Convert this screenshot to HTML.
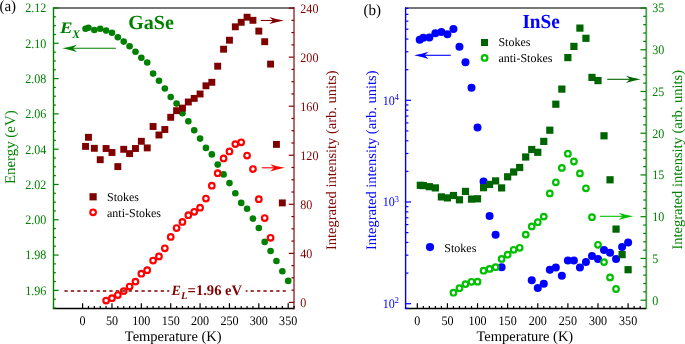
<!DOCTYPE html>
<html><head><meta charset="utf-8"><style>
html,body{margin:0;padding:0;background:#fff;}
body{width:685px;height:344px;overflow:hidden;}
svg{display:block;font-family:"Liberation Serif",serif;text-rendering:geometricPrecision;will-change:transform;filter:blur(0.3px);}
</style></head><body>
<svg width="685" height="344" viewBox="0 0 685 344">
<rect width="685" height="344" fill="#fff"/>
<line x1="53.5" y1="8.0" x2="294.0" y2="8.0" stroke="#4a4a4a" stroke-width="1.5"/>
<line x1="52.8" y1="308.5" x2="294.0" y2="308.5" stroke="#000" stroke-width="1.3"/>
<line x1="53.5" y1="7.3" x2="53.5" y2="308.7" stroke="#008000" stroke-width="1.4"/>
<line x1="294.0" y1="7.1" x2="294.0" y2="309.4" stroke="#800000" stroke-width="2" stroke-opacity="0.58"/>
<line x1="405.6" y1="8.0" x2="646.0" y2="8.0" stroke="#4a4a4a" stroke-width="1.5"/>
<line x1="404.90000000000003" y1="308.5" x2="646.0" y2="308.5" stroke="#000" stroke-width="1.3"/>
<line x1="405.6" y1="7.3" x2="405.6" y2="308.7" stroke="#0000ff" stroke-width="1.4"/>
<line x1="646.3" y1="7.2" x2="646.3" y2="309.3" stroke="#008000" stroke-width="1.7" stroke-opacity="0.75"/>
<line x1="82.6" y1="308.5" x2="82.6" y2="303.2" stroke="#000" stroke-width="1.2"/>
<line x1="88.47" y1="308.5" x2="88.47" y2="306" stroke="#000" stroke-width="1.2"/>
<line x1="94.35" y1="308.5" x2="94.35" y2="306" stroke="#000" stroke-width="1.2"/>
<line x1="100.22" y1="308.5" x2="100.22" y2="306" stroke="#000" stroke-width="1.2"/>
<line x1="106.1" y1="308.5" x2="106.1" y2="306" stroke="#000" stroke-width="1.2"/>
<line x1="111.97" y1="308.5" x2="111.97" y2="303.2" stroke="#000" stroke-width="1.2"/>
<line x1="117.84" y1="308.5" x2="117.84" y2="306" stroke="#000" stroke-width="1.2"/>
<line x1="123.72" y1="308.5" x2="123.72" y2="306" stroke="#000" stroke-width="1.2"/>
<line x1="129.59" y1="308.5" x2="129.59" y2="306" stroke="#000" stroke-width="1.2"/>
<line x1="135.47" y1="308.5" x2="135.47" y2="306" stroke="#000" stroke-width="1.2"/>
<line x1="141.34" y1="308.5" x2="141.34" y2="303.2" stroke="#000" stroke-width="1.2"/>
<line x1="147.21" y1="308.5" x2="147.21" y2="306" stroke="#000" stroke-width="1.2"/>
<line x1="153.09" y1="308.5" x2="153.09" y2="306" stroke="#000" stroke-width="1.2"/>
<line x1="158.96" y1="308.5" x2="158.96" y2="306" stroke="#000" stroke-width="1.2"/>
<line x1="164.84" y1="308.5" x2="164.84" y2="306" stroke="#000" stroke-width="1.2"/>
<line x1="170.71" y1="308.5" x2="170.71" y2="303.2" stroke="#000" stroke-width="1.2"/>
<line x1="176.58" y1="308.5" x2="176.58" y2="306" stroke="#000" stroke-width="1.2"/>
<line x1="182.46" y1="308.5" x2="182.46" y2="306" stroke="#000" stroke-width="1.2"/>
<line x1="188.33" y1="308.5" x2="188.33" y2="306" stroke="#000" stroke-width="1.2"/>
<line x1="194.21" y1="308.5" x2="194.21" y2="306" stroke="#000" stroke-width="1.2"/>
<line x1="200.08" y1="308.5" x2="200.08" y2="303.2" stroke="#000" stroke-width="1.2"/>
<line x1="205.95" y1="308.5" x2="205.95" y2="306" stroke="#000" stroke-width="1.2"/>
<line x1="211.83" y1="308.5" x2="211.83" y2="306" stroke="#000" stroke-width="1.2"/>
<line x1="217.7" y1="308.5" x2="217.7" y2="306" stroke="#000" stroke-width="1.2"/>
<line x1="223.58" y1="308.5" x2="223.58" y2="306" stroke="#000" stroke-width="1.2"/>
<line x1="229.45" y1="308.5" x2="229.45" y2="303.2" stroke="#000" stroke-width="1.2"/>
<line x1="235.32" y1="308.5" x2="235.32" y2="306" stroke="#000" stroke-width="1.2"/>
<line x1="241.2" y1="308.5" x2="241.2" y2="306" stroke="#000" stroke-width="1.2"/>
<line x1="247.07" y1="308.5" x2="247.07" y2="306" stroke="#000" stroke-width="1.2"/>
<line x1="252.95" y1="308.5" x2="252.95" y2="306" stroke="#000" stroke-width="1.2"/>
<line x1="258.82" y1="308.5" x2="258.82" y2="303.2" stroke="#000" stroke-width="1.2"/>
<line x1="264.69" y1="308.5" x2="264.69" y2="306" stroke="#000" stroke-width="1.2"/>
<line x1="270.57" y1="308.5" x2="270.57" y2="306" stroke="#000" stroke-width="1.2"/>
<line x1="276.44" y1="308.5" x2="276.44" y2="306" stroke="#000" stroke-width="1.2"/>
<line x1="282.32" y1="308.5" x2="282.32" y2="306" stroke="#000" stroke-width="1.2"/>
<line x1="288.19" y1="308.5" x2="288.19" y2="303.2" stroke="#000" stroke-width="1.2"/>
<line x1="294.06" y1="308.5" x2="294.06" y2="306" stroke="#000" stroke-width="1.2"/>
<line x1="417.3" y1="308.5" x2="417.3" y2="303.2" stroke="#000" stroke-width="1.2"/>
<line x1="423.32" y1="308.5" x2="423.32" y2="306" stroke="#000" stroke-width="1.2"/>
<line x1="429.35" y1="308.5" x2="429.35" y2="306" stroke="#000" stroke-width="1.2"/>
<line x1="435.37" y1="308.5" x2="435.37" y2="306" stroke="#000" stroke-width="1.2"/>
<line x1="441.39" y1="308.5" x2="441.39" y2="306" stroke="#000" stroke-width="1.2"/>
<line x1="447.42" y1="308.5" x2="447.42" y2="303.2" stroke="#000" stroke-width="1.2"/>
<line x1="453.44" y1="308.5" x2="453.44" y2="306" stroke="#000" stroke-width="1.2"/>
<line x1="459.46" y1="308.5" x2="459.46" y2="306" stroke="#000" stroke-width="1.2"/>
<line x1="465.48" y1="308.5" x2="465.48" y2="306" stroke="#000" stroke-width="1.2"/>
<line x1="471.51" y1="308.5" x2="471.51" y2="306" stroke="#000" stroke-width="1.2"/>
<line x1="477.53" y1="308.5" x2="477.53" y2="303.2" stroke="#000" stroke-width="1.2"/>
<line x1="483.55" y1="308.5" x2="483.55" y2="306" stroke="#000" stroke-width="1.2"/>
<line x1="489.58" y1="308.5" x2="489.58" y2="306" stroke="#000" stroke-width="1.2"/>
<line x1="495.6" y1="308.5" x2="495.6" y2="306" stroke="#000" stroke-width="1.2"/>
<line x1="501.62" y1="308.5" x2="501.62" y2="306" stroke="#000" stroke-width="1.2"/>
<line x1="507.64" y1="308.5" x2="507.64" y2="303.2" stroke="#000" stroke-width="1.2"/>
<line x1="513.67" y1="308.5" x2="513.67" y2="306" stroke="#000" stroke-width="1.2"/>
<line x1="519.69" y1="308.5" x2="519.69" y2="306" stroke="#000" stroke-width="1.2"/>
<line x1="525.71" y1="308.5" x2="525.71" y2="306" stroke="#000" stroke-width="1.2"/>
<line x1="531.74" y1="308.5" x2="531.74" y2="306" stroke="#000" stroke-width="1.2"/>
<line x1="537.76" y1="308.5" x2="537.76" y2="303.2" stroke="#000" stroke-width="1.2"/>
<line x1="543.78" y1="308.5" x2="543.78" y2="306" stroke="#000" stroke-width="1.2"/>
<line x1="549.81" y1="308.5" x2="549.81" y2="306" stroke="#000" stroke-width="1.2"/>
<line x1="555.83" y1="308.5" x2="555.83" y2="306" stroke="#000" stroke-width="1.2"/>
<line x1="561.85" y1="308.5" x2="561.85" y2="306" stroke="#000" stroke-width="1.2"/>
<line x1="567.88" y1="308.5" x2="567.88" y2="303.2" stroke="#000" stroke-width="1.2"/>
<line x1="573.9" y1="308.5" x2="573.9" y2="306" stroke="#000" stroke-width="1.2"/>
<line x1="579.92" y1="308.5" x2="579.92" y2="306" stroke="#000" stroke-width="1.2"/>
<line x1="585.94" y1="308.5" x2="585.94" y2="306" stroke="#000" stroke-width="1.2"/>
<line x1="591.97" y1="308.5" x2="591.97" y2="306" stroke="#000" stroke-width="1.2"/>
<line x1="597.99" y1="308.5" x2="597.99" y2="303.2" stroke="#000" stroke-width="1.2"/>
<line x1="604.01" y1="308.5" x2="604.01" y2="306" stroke="#000" stroke-width="1.2"/>
<line x1="610.04" y1="308.5" x2="610.04" y2="306" stroke="#000" stroke-width="1.2"/>
<line x1="616.06" y1="308.5" x2="616.06" y2="306" stroke="#000" stroke-width="1.2"/>
<line x1="622.08" y1="308.5" x2="622.08" y2="306" stroke="#000" stroke-width="1.2"/>
<line x1="628.11" y1="308.5" x2="628.11" y2="303.2" stroke="#000" stroke-width="1.2"/>
<line x1="634.13" y1="308.5" x2="634.13" y2="306" stroke="#000" stroke-width="1.2"/>
<line x1="640.15" y1="308.5" x2="640.15" y2="306" stroke="#000" stroke-width="1.2"/>
<line x1="53.5" y1="308" x2="55.9" y2="308" stroke="#008000" stroke-width="1.2"/>
<line x1="53.5" y1="299.18" x2="55.9" y2="299.18" stroke="#008000" stroke-width="1.2"/>
<line x1="53.5" y1="290.35" x2="58.7" y2="290.35" stroke="#008000" stroke-width="1.2"/>
<line x1="53.5" y1="281.53" x2="55.9" y2="281.53" stroke="#008000" stroke-width="1.2"/>
<line x1="53.5" y1="272.71" x2="55.9" y2="272.71" stroke="#008000" stroke-width="1.2"/>
<line x1="53.5" y1="263.88" x2="55.9" y2="263.88" stroke="#008000" stroke-width="1.2"/>
<line x1="53.5" y1="255.06" x2="58.7" y2="255.06" stroke="#008000" stroke-width="1.2"/>
<line x1="53.5" y1="246.24" x2="55.9" y2="246.24" stroke="#008000" stroke-width="1.2"/>
<line x1="53.5" y1="237.41" x2="55.9" y2="237.41" stroke="#008000" stroke-width="1.2"/>
<line x1="53.5" y1="228.59" x2="55.9" y2="228.59" stroke="#008000" stroke-width="1.2"/>
<line x1="53.5" y1="219.76" x2="58.7" y2="219.76" stroke="#008000" stroke-width="1.2"/>
<line x1="53.5" y1="210.94" x2="55.9" y2="210.94" stroke="#008000" stroke-width="1.2"/>
<line x1="53.5" y1="202.12" x2="55.9" y2="202.12" stroke="#008000" stroke-width="1.2"/>
<line x1="53.5" y1="193.29" x2="55.9" y2="193.29" stroke="#008000" stroke-width="1.2"/>
<line x1="53.5" y1="184.47" x2="58.7" y2="184.47" stroke="#008000" stroke-width="1.2"/>
<line x1="53.5" y1="175.65" x2="55.9" y2="175.65" stroke="#008000" stroke-width="1.2"/>
<line x1="53.5" y1="166.82" x2="55.9" y2="166.82" stroke="#008000" stroke-width="1.2"/>
<line x1="53.5" y1="158" x2="55.9" y2="158" stroke="#008000" stroke-width="1.2"/>
<line x1="53.5" y1="149.18" x2="58.7" y2="149.18" stroke="#008000" stroke-width="1.2"/>
<line x1="53.5" y1="140.35" x2="55.9" y2="140.35" stroke="#008000" stroke-width="1.2"/>
<line x1="53.5" y1="131.53" x2="55.9" y2="131.53" stroke="#008000" stroke-width="1.2"/>
<line x1="53.5" y1="122.71" x2="55.9" y2="122.71" stroke="#008000" stroke-width="1.2"/>
<line x1="53.5" y1="113.88" x2="58.7" y2="113.88" stroke="#008000" stroke-width="1.2"/>
<line x1="53.5" y1="105.06" x2="55.9" y2="105.06" stroke="#008000" stroke-width="1.2"/>
<line x1="53.5" y1="96.24" x2="55.9" y2="96.24" stroke="#008000" stroke-width="1.2"/>
<line x1="53.5" y1="87.41" x2="55.9" y2="87.41" stroke="#008000" stroke-width="1.2"/>
<line x1="53.5" y1="78.59" x2="58.7" y2="78.59" stroke="#008000" stroke-width="1.2"/>
<line x1="53.5" y1="69.77" x2="55.9" y2="69.77" stroke="#008000" stroke-width="1.2"/>
<line x1="53.5" y1="60.94" x2="55.9" y2="60.94" stroke="#008000" stroke-width="1.2"/>
<line x1="53.5" y1="52.12" x2="55.9" y2="52.12" stroke="#008000" stroke-width="1.2"/>
<line x1="53.5" y1="43.29" x2="58.7" y2="43.29" stroke="#008000" stroke-width="1.2"/>
<line x1="53.5" y1="34.47" x2="55.9" y2="34.47" stroke="#008000" stroke-width="1.2"/>
<line x1="53.5" y1="25.65" x2="55.9" y2="25.65" stroke="#008000" stroke-width="1.2"/>
<line x1="53.5" y1="16.82" x2="55.9" y2="16.82" stroke="#008000" stroke-width="1.2"/>
<line x1="53.5" y1="8" x2="58.7" y2="8" stroke="#008000" stroke-width="1.2"/>
<line x1="294" y1="302.4" x2="288.8" y2="302.4" stroke="#800000" stroke-width="1.2"/>
<line x1="294" y1="290.14" x2="291.4" y2="290.14" stroke="#800000" stroke-width="1.2"/>
<line x1="294" y1="277.87" x2="291.4" y2="277.87" stroke="#800000" stroke-width="1.2"/>
<line x1="294" y1="265.61" x2="291.4" y2="265.61" stroke="#800000" stroke-width="1.2"/>
<line x1="294" y1="253.35" x2="288.8" y2="253.35" stroke="#800000" stroke-width="1.2"/>
<line x1="294" y1="241.08" x2="291.4" y2="241.08" stroke="#800000" stroke-width="1.2"/>
<line x1="294" y1="228.82" x2="291.4" y2="228.82" stroke="#800000" stroke-width="1.2"/>
<line x1="294" y1="216.56" x2="291.4" y2="216.56" stroke="#800000" stroke-width="1.2"/>
<line x1="294" y1="204.3" x2="288.8" y2="204.3" stroke="#800000" stroke-width="1.2"/>
<line x1="294" y1="192.03" x2="291.4" y2="192.03" stroke="#800000" stroke-width="1.2"/>
<line x1="294" y1="179.77" x2="291.4" y2="179.77" stroke="#800000" stroke-width="1.2"/>
<line x1="294" y1="167.51" x2="291.4" y2="167.51" stroke="#800000" stroke-width="1.2"/>
<line x1="294" y1="155.24" x2="288.8" y2="155.24" stroke="#800000" stroke-width="1.2"/>
<line x1="294" y1="142.98" x2="291.4" y2="142.98" stroke="#800000" stroke-width="1.2"/>
<line x1="294" y1="130.72" x2="291.4" y2="130.72" stroke="#800000" stroke-width="1.2"/>
<line x1="294" y1="118.45" x2="291.4" y2="118.45" stroke="#800000" stroke-width="1.2"/>
<line x1="294" y1="106.19" x2="288.8" y2="106.19" stroke="#800000" stroke-width="1.2"/>
<line x1="294" y1="93.93" x2="291.4" y2="93.93" stroke="#800000" stroke-width="1.2"/>
<line x1="294" y1="81.67" x2="291.4" y2="81.67" stroke="#800000" stroke-width="1.2"/>
<line x1="294" y1="69.4" x2="291.4" y2="69.4" stroke="#800000" stroke-width="1.2"/>
<line x1="294" y1="57.14" x2="288.8" y2="57.14" stroke="#800000" stroke-width="1.2"/>
<line x1="294" y1="44.88" x2="291.4" y2="44.88" stroke="#800000" stroke-width="1.2"/>
<line x1="294" y1="32.61" x2="291.4" y2="32.61" stroke="#800000" stroke-width="1.2"/>
<line x1="294" y1="20.35" x2="291.4" y2="20.35" stroke="#800000" stroke-width="1.2"/>
<line x1="294" y1="8.09" x2="288.8" y2="8.09" stroke="#800000" stroke-width="1.2"/>
<line x1="405.6" y1="308.35" x2="408.4" y2="308.35" stroke="#0000ff" stroke-width="1.2"/>
<line x1="405.6" y1="303.7" x2="411.1" y2="303.7" stroke="#0000ff" stroke-width="1.2"/>
<line x1="405.6" y1="273.09" x2="408.4" y2="273.09" stroke="#0000ff" stroke-width="1.2"/>
<line x1="405.6" y1="255.18" x2="408.4" y2="255.18" stroke="#0000ff" stroke-width="1.2"/>
<line x1="405.6" y1="242.47" x2="408.4" y2="242.47" stroke="#0000ff" stroke-width="1.2"/>
<line x1="405.6" y1="232.61" x2="408.4" y2="232.61" stroke="#0000ff" stroke-width="1.2"/>
<line x1="405.6" y1="224.56" x2="408.4" y2="224.56" stroke="#0000ff" stroke-width="1.2"/>
<line x1="405.6" y1="217.75" x2="408.4" y2="217.75" stroke="#0000ff" stroke-width="1.2"/>
<line x1="405.6" y1="211.86" x2="408.4" y2="211.86" stroke="#0000ff" stroke-width="1.2"/>
<line x1="405.6" y1="206.65" x2="408.4" y2="206.65" stroke="#0000ff" stroke-width="1.2"/>
<line x1="405.6" y1="202" x2="411.1" y2="202" stroke="#0000ff" stroke-width="1.2"/>
<line x1="405.6" y1="171.39" x2="408.4" y2="171.39" stroke="#0000ff" stroke-width="1.2"/>
<line x1="405.6" y1="153.48" x2="408.4" y2="153.48" stroke="#0000ff" stroke-width="1.2"/>
<line x1="405.6" y1="140.77" x2="408.4" y2="140.77" stroke="#0000ff" stroke-width="1.2"/>
<line x1="405.6" y1="130.91" x2="408.4" y2="130.91" stroke="#0000ff" stroke-width="1.2"/>
<line x1="405.6" y1="122.86" x2="408.4" y2="122.86" stroke="#0000ff" stroke-width="1.2"/>
<line x1="405.6" y1="116.05" x2="408.4" y2="116.05" stroke="#0000ff" stroke-width="1.2"/>
<line x1="405.6" y1="110.16" x2="408.4" y2="110.16" stroke="#0000ff" stroke-width="1.2"/>
<line x1="405.6" y1="104.95" x2="408.4" y2="104.95" stroke="#0000ff" stroke-width="1.2"/>
<line x1="405.6" y1="100.3" x2="411.1" y2="100.3" stroke="#0000ff" stroke-width="1.2"/>
<line x1="405.6" y1="69.69" x2="408.4" y2="69.69" stroke="#0000ff" stroke-width="1.2"/>
<line x1="405.6" y1="51.78" x2="408.4" y2="51.78" stroke="#0000ff" stroke-width="1.2"/>
<line x1="405.6" y1="39.07" x2="408.4" y2="39.07" stroke="#0000ff" stroke-width="1.2"/>
<line x1="405.6" y1="29.21" x2="408.4" y2="29.21" stroke="#0000ff" stroke-width="1.2"/>
<line x1="405.6" y1="21.16" x2="408.4" y2="21.16" stroke="#0000ff" stroke-width="1.2"/>
<line x1="405.6" y1="14.35" x2="408.4" y2="14.35" stroke="#0000ff" stroke-width="1.2"/>
<line x1="405.6" y1="8.46" x2="408.4" y2="8.46" stroke="#0000ff" stroke-width="1.2"/>
<line x1="646" y1="300.2" x2="640.5" y2="300.2" stroke="#008000" stroke-width="1.2"/>
<line x1="646" y1="291.85" x2="643.2" y2="291.85" stroke="#008000" stroke-width="1.2"/>
<line x1="646" y1="283.5" x2="643.2" y2="283.5" stroke="#008000" stroke-width="1.2"/>
<line x1="646" y1="275.15" x2="643.2" y2="275.15" stroke="#008000" stroke-width="1.2"/>
<line x1="646" y1="266.8" x2="643.2" y2="266.8" stroke="#008000" stroke-width="1.2"/>
<line x1="646" y1="258.45" x2="640.5" y2="258.45" stroke="#008000" stroke-width="1.2"/>
<line x1="646" y1="250.11" x2="643.2" y2="250.11" stroke="#008000" stroke-width="1.2"/>
<line x1="646" y1="241.76" x2="643.2" y2="241.76" stroke="#008000" stroke-width="1.2"/>
<line x1="646" y1="233.41" x2="643.2" y2="233.41" stroke="#008000" stroke-width="1.2"/>
<line x1="646" y1="225.06" x2="643.2" y2="225.06" stroke="#008000" stroke-width="1.2"/>
<line x1="646" y1="216.71" x2="640.5" y2="216.71" stroke="#008000" stroke-width="1.2"/>
<line x1="646" y1="208.36" x2="643.2" y2="208.36" stroke="#008000" stroke-width="1.2"/>
<line x1="646" y1="200.01" x2="643.2" y2="200.01" stroke="#008000" stroke-width="1.2"/>
<line x1="646" y1="191.66" x2="643.2" y2="191.66" stroke="#008000" stroke-width="1.2"/>
<line x1="646" y1="183.31" x2="643.2" y2="183.31" stroke="#008000" stroke-width="1.2"/>
<line x1="646" y1="174.96" x2="640.5" y2="174.96" stroke="#008000" stroke-width="1.2"/>
<line x1="646" y1="166.62" x2="643.2" y2="166.62" stroke="#008000" stroke-width="1.2"/>
<line x1="646" y1="158.27" x2="643.2" y2="158.27" stroke="#008000" stroke-width="1.2"/>
<line x1="646" y1="149.92" x2="643.2" y2="149.92" stroke="#008000" stroke-width="1.2"/>
<line x1="646" y1="141.57" x2="643.2" y2="141.57" stroke="#008000" stroke-width="1.2"/>
<line x1="646" y1="133.22" x2="640.5" y2="133.22" stroke="#008000" stroke-width="1.2"/>
<line x1="646" y1="124.87" x2="643.2" y2="124.87" stroke="#008000" stroke-width="1.2"/>
<line x1="646" y1="116.52" x2="643.2" y2="116.52" stroke="#008000" stroke-width="1.2"/>
<line x1="646" y1="108.17" x2="643.2" y2="108.17" stroke="#008000" stroke-width="1.2"/>
<line x1="646" y1="99.82" x2="643.2" y2="99.82" stroke="#008000" stroke-width="1.2"/>
<line x1="646" y1="91.47" x2="640.5" y2="91.47" stroke="#008000" stroke-width="1.2"/>
<line x1="646" y1="83.13" x2="643.2" y2="83.13" stroke="#008000" stroke-width="1.2"/>
<line x1="646" y1="74.78" x2="643.2" y2="74.78" stroke="#008000" stroke-width="1.2"/>
<line x1="646" y1="66.43" x2="643.2" y2="66.43" stroke="#008000" stroke-width="1.2"/>
<line x1="646" y1="58.08" x2="643.2" y2="58.08" stroke="#008000" stroke-width="1.2"/>
<line x1="646" y1="49.73" x2="640.5" y2="49.73" stroke="#008000" stroke-width="1.2"/>
<line x1="646" y1="41.38" x2="643.2" y2="41.38" stroke="#008000" stroke-width="1.2"/>
<line x1="646" y1="33.03" x2="643.2" y2="33.03" stroke="#008000" stroke-width="1.2"/>
<line x1="646" y1="24.68" x2="643.2" y2="24.68" stroke="#008000" stroke-width="1.2"/>
<line x1="646" y1="16.33" x2="643.2" y2="16.33" stroke="#008000" stroke-width="1.2"/>
<line x1="646" y1="7.98" x2="640.5" y2="7.98" stroke="#008000" stroke-width="1.2"/>
<text transform="translate(82.6,324.6) scale(0.93,1)" fill="#000" font-size="13" text-anchor="middle" >0</text>
<text transform="translate(417.3,324.6) scale(0.93,1)" fill="#000" font-size="13" text-anchor="middle" >0</text>
<text transform="translate(111.97,324.6) scale(0.93,1)" fill="#000" font-size="13" text-anchor="middle" >50</text>
<text transform="translate(447.42,324.6) scale(0.93,1)" fill="#000" font-size="13" text-anchor="middle" >50</text>
<text transform="translate(141.34,324.6) scale(0.93,1)" fill="#000" font-size="13" text-anchor="middle" >100</text>
<text transform="translate(477.53,324.6) scale(0.93,1)" fill="#000" font-size="13" text-anchor="middle" >100</text>
<text transform="translate(170.71,324.6) scale(0.93,1)" fill="#000" font-size="13" text-anchor="middle" >150</text>
<text transform="translate(507.64,324.6) scale(0.93,1)" fill="#000" font-size="13" text-anchor="middle" >150</text>
<text transform="translate(200.08,324.6) scale(0.93,1)" fill="#000" font-size="13" text-anchor="middle" >200</text>
<text transform="translate(537.76,324.6) scale(0.93,1)" fill="#000" font-size="13" text-anchor="middle" >200</text>
<text transform="translate(229.45,324.6) scale(0.93,1)" fill="#000" font-size="13" text-anchor="middle" >250</text>
<text transform="translate(567.88,324.6) scale(0.93,1)" fill="#000" font-size="13" text-anchor="middle" >250</text>
<text transform="translate(258.82,324.6) scale(0.93,1)" fill="#000" font-size="13" text-anchor="middle" >300</text>
<text transform="translate(597.99,324.6) scale(0.93,1)" fill="#000" font-size="13" text-anchor="middle" >300</text>
<text transform="translate(288.19,324.6) scale(0.93,1)" fill="#000" font-size="13" text-anchor="middle" >350</text>
<text transform="translate(628.11,324.6) scale(0.93,1)" fill="#000" font-size="13" text-anchor="middle" >350</text>
<text transform="translate(46.3,294.77) scale(0.93,1)" fill="#008000" font-size="13" text-anchor="end" >1.96</text>
<text transform="translate(46.3,259.48) scale(0.93,1)" fill="#008000" font-size="13" text-anchor="end" >1.98</text>
<text transform="translate(46.3,224.18) scale(0.93,1)" fill="#008000" font-size="13" text-anchor="end" >2.00</text>
<text transform="translate(46.3,188.89) scale(0.93,1)" fill="#008000" font-size="13" text-anchor="end" >2.02</text>
<text transform="translate(46.3,153.6) scale(0.93,1)" fill="#008000" font-size="13" text-anchor="end" >2.04</text>
<text transform="translate(46.3,118.3) scale(0.93,1)" fill="#008000" font-size="13" text-anchor="end" >2.06</text>
<text transform="translate(46.3,83.01) scale(0.93,1)" fill="#008000" font-size="13" text-anchor="end" >2.08</text>
<text transform="translate(46.3,47.71) scale(0.93,1)" fill="#008000" font-size="13" text-anchor="end" >2.10</text>
<text transform="translate(46.3,12.42) scale(0.93,1)" fill="#008000" font-size="13" text-anchor="end" >2.12</text>
<text transform="translate(300.3,306.82) scale(0.93,1)" fill="#800000" font-size="13" text-anchor="start" >0</text>
<text transform="translate(300.3,257.77) scale(0.93,1)" fill="#800000" font-size="13" text-anchor="start" >40</text>
<text transform="translate(300.3,208.72) scale(0.93,1)" fill="#800000" font-size="13" text-anchor="start" >80</text>
<text transform="translate(300.3,159.66) scale(0.93,1)" fill="#800000" font-size="13" text-anchor="start" >120</text>
<text transform="translate(300.3,110.61) scale(0.93,1)" fill="#800000" font-size="13" text-anchor="start" >160</text>
<text transform="translate(300.3,61.56) scale(0.93,1)" fill="#800000" font-size="13" text-anchor="start" >200</text>
<text transform="translate(300.3,12.51) scale(0.93,1)" fill="#800000" font-size="13" text-anchor="start" >240</text>
<text transform="translate(652.3,304.62) scale(0.93,1)" fill="#008000" font-size="13" text-anchor="start" >0</text>
<text transform="translate(652.3,262.88) scale(0.93,1)" fill="#008000" font-size="13" text-anchor="start" >5</text>
<text transform="translate(652.3,221.13) scale(0.93,1)" fill="#008000" font-size="13" text-anchor="start" >10</text>
<text transform="translate(652.3,179.38) scale(0.93,1)" fill="#008000" font-size="13" text-anchor="start" >15</text>
<text transform="translate(652.3,137.64) scale(0.93,1)" fill="#008000" font-size="13" text-anchor="start" >20</text>
<text transform="translate(652.3,95.89) scale(0.93,1)" fill="#008000" font-size="13" text-anchor="start" >25</text>
<text transform="translate(652.3,54.15) scale(0.93,1)" fill="#008000" font-size="13" text-anchor="start" >30</text>
<text transform="translate(652.3,12.4) scale(0.93,1)" fill="#008000" font-size="13" text-anchor="start" >35</text>
<text transform="translate(394.8,308.12) scale(0.93,1)" fill="#0000ff" font-size="13" text-anchor="end" >10</text>
<text transform="translate(394.8,303.42) scale(0.93,1)" fill="#0000ff" font-size="9" text-anchor="start" >2</text>
<text transform="translate(394.8,206.42) scale(0.93,1)" fill="#0000ff" font-size="13" text-anchor="end" >10</text>
<text transform="translate(394.8,201.72) scale(0.93,1)" fill="#0000ff" font-size="9" text-anchor="start" >3</text>
<text transform="translate(394.8,104.72) scale(0.93,1)" fill="#0000ff" font-size="13" text-anchor="end" >10</text>
<text transform="translate(394.8,100.02) scale(0.93,1)" fill="#0000ff" font-size="9" text-anchor="start" >4</text>
<text x="173.2" y="340.9" font-size="14.5" text-anchor="middle" fill="#000">Temperature (K)</text>
<text x="524.8" y="340.9" font-size="14.5" text-anchor="middle" fill="#000">Temperature (K)</text>
<text transform="translate(14.5,147.25) rotate(-90)" x="0" y="0" font-size="14.9" text-anchor="middle" fill="#008000">Energy (eV)</text>
<text transform="translate(335.6,160.2) rotate(-90)" x="0" y="0" font-size="14.5" text-anchor="middle" fill="#800000">Integrated intensity (arb. units)</text>
<text transform="translate(376.4,160.3) rotate(-90)" x="0" y="0" font-size="14.5" text-anchor="middle" fill="#0000ff">Integrated intensity (arb. units)</text>
<text transform="translate(682,159.7) rotate(-90)" x="0" y="0" font-size="14.5" text-anchor="middle" fill="#008000">Integrated intensity (arb. units)</text>
<text transform="translate(-0.6,10.9) scale(0.965,1)" fill="#000" font-size="15.6" text-anchor="start" >(a)</text>
<text transform="translate(363.4,15.3) scale(0.965,1)" fill="#000" font-size="15.6" text-anchor="start" >(b)</text>
<text x="128.3" y="29.1" font-size="20" font-weight="bold" fill="#008000">GaSe</text>
<text transform="translate(522.4,28.1) scale(0.96,1)" font-size="20" font-weight="bold" fill="#0000ff">InSe</text>
<text transform="translate(60.0,33.0) scale(1.17,1)" font-size="16" font-weight="bold" font-style="italic" fill="#008000">E</text>
<text x="72.2" y="37.7" font-size="11.6" font-weight="bold" font-style="italic" fill="#008000">X</text>
<line x1="64.4" y1="291.0" x2="285.8" y2="291.0" stroke="#800000" stroke-width="1.7" stroke-dasharray="3.3 3.12"/>
<rect x="169.3" y="286" width="76.4" height="9" fill="#fff"/>
<text x="171.4" y="295.2" font-size="14" font-weight="bold" font-style="italic" fill="#800000">E</text>
<text x="181.0" y="298.9" font-size="10.5" font-weight="bold" font-style="italic" fill="#800000">L</text>
<text x="187.6" y="295.2" font-size="14.6" font-weight="bold" fill="#800000">=1.96 eV</text>
<line x1="115.9" y1="48.3" x2="73" y2="48.3" stroke="#008000" stroke-width="1.1"/>
<path d="M62.3,48.3 Q70.33,46.68 76.9,44.7 L73,48.3 L76.9,51.9 Q70.33,49.92 62.3,48.3Z" fill="#008000"/>
<line x1="260.8" y1="20.5" x2="273.2" y2="20.5" stroke="#800000" stroke-width="1.1"/>
<path d="M283.9,20.5 Q275.87,18.88 269.3,16.9 L273.2,20.5 L269.3,24.1 Q275.87,22.12 283.9,20.5Z" fill="#800000"/>
<line x1="261.7" y1="167.8" x2="274.1" y2="167.8" stroke="#ff0000" stroke-width="1.1"/>
<path d="M284.8,167.8 Q276.77,166.18 270.2,164.2 L274.1,167.8 L270.2,171.4 Q276.77,169.42 284.8,167.8Z" fill="#ff0000"/>
<line x1="450.8" y1="55.3" x2="424.7" y2="55.3" stroke="#0000ff" stroke-width="1.1"/>
<path d="M414,55.3 Q422.03,53.68 428.6,51.7 L424.7,55.3 L428.6,58.9 Q422.03,56.92 414,55.3Z" fill="#0000ff"/>
<line x1="607.2" y1="79.3" x2="629.9" y2="79.3" stroke="#006400" stroke-width="1.1"/>
<path d="M640.6,79.3 Q632.57,77.68 626,75.7 L629.9,79.3 L626,82.9 Q632.57,80.92 640.6,79.3Z" fill="#006400"/>
<line x1="599.7" y1="216.3" x2="622.6" y2="216.3" stroke="#00c000" stroke-width="1.1"/>
<path d="M633.3,216.3 Q625.27,214.68 618.7,212.7 L622.6,216.3 L618.7,219.9 Q625.27,217.92 633.3,216.3Z" fill="#00c000"/>
<circle cx="85.54" cy="28.8" r="3.3" fill="#008000"/>
<circle cx="88.47" cy="27.8" r="3.3" fill="#008000"/>
<circle cx="94.35" cy="30" r="3.3" fill="#008000"/>
<circle cx="100.22" cy="28.8" r="3.3" fill="#008000"/>
<circle cx="106.1" cy="30.6" r="3.3" fill="#008000"/>
<circle cx="111.97" cy="32.7" r="3.3" fill="#008000"/>
<circle cx="117.84" cy="37.3" r="3.3" fill="#008000"/>
<circle cx="123.72" cy="41.6" r="3.3" fill="#008000"/>
<circle cx="129.59" cy="46.3" r="3.3" fill="#008000"/>
<circle cx="135.47" cy="51.7" r="3.3" fill="#008000"/>
<circle cx="141.34" cy="57.7" r="3.3" fill="#008000"/>
<circle cx="147.21" cy="62.5" r="3.3" fill="#008000"/>
<circle cx="153.09" cy="73.6" r="3.3" fill="#008000"/>
<circle cx="158.96" cy="80.7" r="3.3" fill="#008000"/>
<circle cx="164.84" cy="88.5" r="3.3" fill="#008000"/>
<circle cx="170.71" cy="97" r="3.3" fill="#008000"/>
<circle cx="176.58" cy="103.6" r="3.3" fill="#008000"/>
<circle cx="182.46" cy="113.2" r="3.3" fill="#008000"/>
<circle cx="188.33" cy="121.2" r="3.3" fill="#008000"/>
<circle cx="194.21" cy="130.2" r="3.3" fill="#008000"/>
<circle cx="200.08" cy="138.6" r="3.3" fill="#008000"/>
<circle cx="205.95" cy="147.9" r="3.3" fill="#008000"/>
<circle cx="211.83" cy="154.4" r="3.3" fill="#008000"/>
<circle cx="217.7" cy="164.6" r="3.3" fill="#008000"/>
<circle cx="223.58" cy="174.4" r="3.3" fill="#008000"/>
<circle cx="229.45" cy="183.1" r="3.3" fill="#008000"/>
<circle cx="235.32" cy="193.3" r="3.3" fill="#008000"/>
<circle cx="241.2" cy="202.9" r="3.3" fill="#008000"/>
<circle cx="247.07" cy="208.7" r="3.3" fill="#008000"/>
<circle cx="252.95" cy="218.6" r="3.3" fill="#008000"/>
<circle cx="258.82" cy="228" r="3.3" fill="#008000"/>
<circle cx="264.69" cy="241.9" r="3.3" fill="#008000"/>
<circle cx="270.57" cy="251" r="3.3" fill="#008000"/>
<circle cx="276.44" cy="261" r="3.3" fill="#008000"/>
<circle cx="282.32" cy="271.3" r="3.3" fill="#008000"/>
<circle cx="288.19" cy="280.9" r="3.3" fill="#008000"/>
<rect x="82.09" y="142.95" width="6.9" height="6.9" fill="#800000"/>
<rect x="85.02" y="133.85" width="6.9" height="6.9" fill="#800000"/>
<rect x="90.9" y="144.85" width="6.9" height="6.9" fill="#800000"/>
<rect x="96.77" y="156.25" width="6.9" height="6.9" fill="#800000"/>
<rect x="102.65" y="145.05" width="6.9" height="6.9" fill="#800000"/>
<rect x="108.52" y="149.05" width="6.9" height="6.9" fill="#800000"/>
<rect x="114.39" y="163.15" width="6.9" height="6.9" fill="#800000"/>
<rect x="120.27" y="145.85" width="6.9" height="6.9" fill="#800000"/>
<rect x="126.14" y="150.15" width="6.9" height="6.9" fill="#800000"/>
<rect x="132.02" y="145.05" width="6.9" height="6.9" fill="#800000"/>
<rect x="137.89" y="137.85" width="6.9" height="6.9" fill="#800000"/>
<rect x="143.76" y="144.45" width="6.9" height="6.9" fill="#800000"/>
<rect x="149.64" y="123.05" width="6.9" height="6.9" fill="#800000"/>
<rect x="155.51" y="131.55" width="6.9" height="6.9" fill="#800000"/>
<rect x="161.39" y="126.05" width="6.9" height="6.9" fill="#800000"/>
<rect x="167.26" y="113.85" width="6.9" height="6.9" fill="#800000"/>
<rect x="173.13" y="107.25" width="6.9" height="6.9" fill="#800000"/>
<rect x="179.01" y="104.65" width="6.9" height="6.9" fill="#800000"/>
<rect x="184.88" y="98.55" width="6.9" height="6.9" fill="#800000"/>
<rect x="190.76" y="94.95" width="6.9" height="6.9" fill="#800000"/>
<rect x="196.63" y="90.55" width="6.9" height="6.9" fill="#800000"/>
<rect x="202.5" y="82.35" width="6.9" height="6.9" fill="#800000"/>
<rect x="208.38" y="78.85" width="6.9" height="6.9" fill="#800000"/>
<rect x="214.25" y="62.75" width="6.9" height="6.9" fill="#800000"/>
<rect x="220.13" y="45.75" width="6.9" height="6.9" fill="#800000"/>
<rect x="226" y="36.75" width="6.9" height="6.9" fill="#800000"/>
<rect x="231.87" y="23.35" width="6.9" height="6.9" fill="#800000"/>
<rect x="237.75" y="18.85" width="6.9" height="6.9" fill="#800000"/>
<rect x="243.62" y="13.75" width="6.9" height="6.9" fill="#800000"/>
<rect x="249.5" y="16.85" width="6.9" height="6.9" fill="#800000"/>
<rect x="255.37" y="27.65" width="6.9" height="6.9" fill="#800000"/>
<rect x="261.24" y="38.25" width="6.9" height="6.9" fill="#800000"/>
<rect x="267.12" y="60.65" width="6.9" height="6.9" fill="#800000"/>
<rect x="272.99" y="140.95" width="6.9" height="6.9" fill="#800000"/>
<rect x="278.87" y="199.45" width="6.9" height="6.9" fill="#800000"/>
<circle cx="106.1" cy="300.5" r="2.8" fill="none" stroke="#ff0000" stroke-width="2.15"/>
<circle cx="111.97" cy="298.2" r="2.8" fill="none" stroke="#ff0000" stroke-width="2.15"/>
<circle cx="117.84" cy="295" r="2.8" fill="none" stroke="#ff0000" stroke-width="2.15"/>
<circle cx="123.72" cy="291.1" r="2.8" fill="none" stroke="#ff0000" stroke-width="2.15"/>
<circle cx="129.59" cy="286.5" r="2.8" fill="none" stroke="#ff0000" stroke-width="2.15"/>
<circle cx="135.47" cy="281.6" r="2.8" fill="none" stroke="#ff0000" stroke-width="2.15"/>
<circle cx="141.34" cy="273.7" r="2.8" fill="none" stroke="#ff0000" stroke-width="2.15"/>
<circle cx="147.21" cy="270.2" r="2.8" fill="none" stroke="#ff0000" stroke-width="2.15"/>
<circle cx="153.09" cy="260.5" r="2.8" fill="none" stroke="#ff0000" stroke-width="2.15"/>
<circle cx="158.96" cy="256.4" r="2.8" fill="none" stroke="#ff0000" stroke-width="2.15"/>
<circle cx="164.84" cy="248.3" r="2.8" fill="none" stroke="#ff0000" stroke-width="2.15"/>
<circle cx="170.71" cy="236.9" r="2.8" fill="none" stroke="#ff0000" stroke-width="2.15"/>
<circle cx="176.58" cy="228" r="2.8" fill="none" stroke="#ff0000" stroke-width="2.15"/>
<circle cx="182.46" cy="221.9" r="2.8" fill="none" stroke="#ff0000" stroke-width="2.15"/>
<circle cx="188.33" cy="215.2" r="2.8" fill="none" stroke="#ff0000" stroke-width="2.15"/>
<circle cx="194.21" cy="211.8" r="2.8" fill="none" stroke="#ff0000" stroke-width="2.15"/>
<circle cx="200.08" cy="207.7" r="2.8" fill="none" stroke="#ff0000" stroke-width="2.15"/>
<circle cx="205.95" cy="198.5" r="2.8" fill="none" stroke="#ff0000" stroke-width="2.15"/>
<circle cx="211.83" cy="185.7" r="2.8" fill="none" stroke="#ff0000" stroke-width="2.15"/>
<circle cx="217.7" cy="173.2" r="2.8" fill="none" stroke="#ff0000" stroke-width="2.15"/>
<circle cx="223.58" cy="158.4" r="2.8" fill="none" stroke="#ff0000" stroke-width="2.15"/>
<circle cx="229.45" cy="151.4" r="2.8" fill="none" stroke="#ff0000" stroke-width="2.15"/>
<circle cx="235.32" cy="144.1" r="2.8" fill="none" stroke="#ff0000" stroke-width="2.15"/>
<circle cx="241.2" cy="142.3" r="2.8" fill="none" stroke="#ff0000" stroke-width="2.15"/>
<circle cx="247.07" cy="155.5" r="2.8" fill="none" stroke="#ff0000" stroke-width="2.15"/>
<circle cx="252.95" cy="169" r="2.8" fill="none" stroke="#ff0000" stroke-width="2.15"/>
<circle cx="258.82" cy="199.2" r="2.8" fill="none" stroke="#ff0000" stroke-width="2.15"/>
<circle cx="264.69" cy="218" r="2.8" fill="none" stroke="#ff0000" stroke-width="2.15"/>
<circle cx="270.57" cy="237.8" r="2.8" fill="none" stroke="#ff0000" stroke-width="2.15"/>
<circle cx="419.71" cy="39.7" r="4.0" fill="#0000ff"/>
<circle cx="423.32" cy="37.8" r="4.0" fill="#0000ff"/>
<circle cx="429.35" cy="37.5" r="4.0" fill="#0000ff"/>
<circle cx="435.37" cy="33.2" r="4.0" fill="#0000ff"/>
<circle cx="441.39" cy="32" r="4.0" fill="#0000ff"/>
<circle cx="447.42" cy="34.3" r="4.0" fill="#0000ff"/>
<circle cx="453.44" cy="29.1" r="4.0" fill="#0000ff"/>
<circle cx="459.46" cy="46.7" r="4.0" fill="#0000ff"/>
<circle cx="465.48" cy="62.3" r="4.0" fill="#0000ff"/>
<circle cx="471.51" cy="87.7" r="4.0" fill="#0000ff"/>
<circle cx="477.53" cy="127.6" r="4.0" fill="#0000ff"/>
<circle cx="483.55" cy="181.4" r="4.0" fill="#0000ff"/>
<circle cx="489.58" cy="215.9" r="4.0" fill="#0000ff"/>
<circle cx="495.6" cy="234.8" r="4.0" fill="#0000ff"/>
<circle cx="501.62" cy="267.3" r="4.0" fill="#0000ff"/>
<circle cx="531.74" cy="280.3" r="4.0" fill="#0000ff"/>
<circle cx="537.76" cy="288" r="4.0" fill="#0000ff"/>
<circle cx="543.78" cy="283.8" r="4.0" fill="#0000ff"/>
<circle cx="549.81" cy="269.7" r="4.0" fill="#0000ff"/>
<circle cx="555.83" cy="267.6" r="4.0" fill="#0000ff"/>
<circle cx="561.85" cy="275.8" r="4.0" fill="#0000ff"/>
<circle cx="567.88" cy="260.5" r="4.0" fill="#0000ff"/>
<circle cx="573.9" cy="260.5" r="4.0" fill="#0000ff"/>
<circle cx="579.92" cy="267.6" r="4.0" fill="#0000ff"/>
<circle cx="585.94" cy="261.9" r="4.0" fill="#0000ff"/>
<circle cx="591.97" cy="256" r="4.0" fill="#0000ff"/>
<circle cx="597.99" cy="258.9" r="4.0" fill="#0000ff"/>
<circle cx="604.01" cy="249.9" r="4.0" fill="#0000ff"/>
<circle cx="610.04" cy="252.8" r="4.0" fill="#0000ff"/>
<circle cx="616.06" cy="259.1" r="4.0" fill="#0000ff"/>
<circle cx="622.08" cy="246.9" r="4.0" fill="#0000ff"/>
<circle cx="628.11" cy="242.6" r="4.0" fill="#0000ff"/>
<rect x="416.71" y="181.7" width="7.2" height="7.2" fill="#006400"/>
<rect x="419.72" y="182" width="7.2" height="7.2" fill="#006400"/>
<rect x="425.75" y="183.1" width="7.2" height="7.2" fill="#006400"/>
<rect x="431.77" y="184.3" width="7.2" height="7.2" fill="#006400"/>
<rect x="437.79" y="193.3" width="7.2" height="7.2" fill="#006400"/>
<rect x="443.81" y="194.3" width="7.2" height="7.2" fill="#006400"/>
<rect x="449.84" y="191.9" width="7.2" height="7.2" fill="#006400"/>
<rect x="455.86" y="196.2" width="7.2" height="7.2" fill="#006400"/>
<rect x="461.88" y="187.8" width="7.2" height="7.2" fill="#006400"/>
<rect x="467.91" y="195.5" width="7.2" height="7.2" fill="#006400"/>
<rect x="473.93" y="195.2" width="7.2" height="7.2" fill="#006400"/>
<rect x="479.95" y="184.1" width="7.2" height="7.2" fill="#006400"/>
<rect x="485.98" y="180.8" width="7.2" height="7.2" fill="#006400"/>
<rect x="492" y="177.3" width="7.2" height="7.2" fill="#006400"/>
<rect x="498.02" y="184.3" width="7.2" height="7.2" fill="#006400"/>
<rect x="504.04" y="173.2" width="7.2" height="7.2" fill="#006400"/>
<rect x="510.07" y="168.4" width="7.2" height="7.2" fill="#006400"/>
<rect x="516.09" y="163.9" width="7.2" height="7.2" fill="#006400"/>
<rect x="522.11" y="153.4" width="7.2" height="7.2" fill="#006400"/>
<rect x="528.14" y="145.9" width="7.2" height="7.2" fill="#006400"/>
<rect x="534.16" y="148.7" width="7.2" height="7.2" fill="#006400"/>
<rect x="540.18" y="137.8" width="7.2" height="7.2" fill="#006400"/>
<rect x="546.21" y="126.6" width="7.2" height="7.2" fill="#006400"/>
<rect x="552.23" y="100.6" width="7.2" height="7.2" fill="#006400"/>
<rect x="558.25" y="85.5" width="7.2" height="7.2" fill="#006400"/>
<rect x="564.27" y="54" width="7.2" height="7.2" fill="#006400"/>
<rect x="570.3" y="42.8" width="7.2" height="7.2" fill="#006400"/>
<rect x="576.32" y="24.5" width="7.2" height="7.2" fill="#006400"/>
<rect x="582.34" y="34.7" width="7.2" height="7.2" fill="#006400"/>
<rect x="588.37" y="73.8" width="7.2" height="7.2" fill="#006400"/>
<rect x="594.39" y="77" width="7.2" height="7.2" fill="#006400"/>
<rect x="600.41" y="132.2" width="7.2" height="7.2" fill="#006400"/>
<rect x="606.44" y="176.2" width="7.2" height="7.2" fill="#006400"/>
<rect x="612.46" y="225.5" width="7.2" height="7.2" fill="#006400"/>
<rect x="618.48" y="251" width="7.2" height="7.2" fill="#006400"/>
<rect x="624.5" y="266.1" width="7.2" height="7.2" fill="#006400"/>
<circle cx="453.44" cy="292.7" r="2.8" fill="none" stroke="#00c000" stroke-width="2.2"/>
<circle cx="459.46" cy="288.2" r="2.8" fill="none" stroke="#00c000" stroke-width="2.2"/>
<circle cx="465.48" cy="284.1" r="2.8" fill="none" stroke="#00c000" stroke-width="2.2"/>
<circle cx="471.51" cy="281.8" r="2.8" fill="none" stroke="#00c000" stroke-width="2.2"/>
<circle cx="477.53" cy="281.7" r="2.8" fill="none" stroke="#00c000" stroke-width="2.2"/>
<circle cx="483.55" cy="270.7" r="2.8" fill="none" stroke="#00c000" stroke-width="2.2"/>
<circle cx="489.58" cy="268.9" r="2.8" fill="none" stroke="#00c000" stroke-width="2.2"/>
<circle cx="495.6" cy="267.2" r="2.8" fill="none" stroke="#00c000" stroke-width="2.2"/>
<circle cx="501.62" cy="258.9" r="2.8" fill="none" stroke="#00c000" stroke-width="2.2"/>
<circle cx="507.64" cy="254.7" r="2.8" fill="none" stroke="#00c000" stroke-width="2.2"/>
<circle cx="513.67" cy="249.8" r="2.8" fill="none" stroke="#00c000" stroke-width="2.2"/>
<circle cx="519.69" cy="247.8" r="2.8" fill="none" stroke="#00c000" stroke-width="2.2"/>
<circle cx="525.71" cy="234.6" r="2.8" fill="none" stroke="#00c000" stroke-width="2.2"/>
<circle cx="531.74" cy="226.4" r="2.8" fill="none" stroke="#00c000" stroke-width="2.2"/>
<circle cx="537.76" cy="222.2" r="2.8" fill="none" stroke="#00c000" stroke-width="2.2"/>
<circle cx="543.78" cy="216.6" r="2.8" fill="none" stroke="#00c000" stroke-width="2.2"/>
<circle cx="549.81" cy="193.4" r="2.8" fill="none" stroke="#00c000" stroke-width="2.2"/>
<circle cx="555.83" cy="182.3" r="2.8" fill="none" stroke="#00c000" stroke-width="2.2"/>
<circle cx="561.85" cy="167.9" r="2.8" fill="none" stroke="#00c000" stroke-width="2.2"/>
<circle cx="567.88" cy="153.7" r="2.8" fill="none" stroke="#00c000" stroke-width="2.2"/>
<circle cx="573.9" cy="161.5" r="2.8" fill="none" stroke="#00c000" stroke-width="2.2"/>
<circle cx="579.92" cy="173.4" r="2.8" fill="none" stroke="#00c000" stroke-width="2.2"/>
<circle cx="585.94" cy="188.3" r="2.8" fill="none" stroke="#00c000" stroke-width="2.2"/>
<circle cx="591.97" cy="217.2" r="2.8" fill="none" stroke="#00c000" stroke-width="2.2"/>
<circle cx="597.99" cy="244.8" r="2.8" fill="none" stroke="#00c000" stroke-width="2.2"/>
<circle cx="604.01" cy="262.1" r="2.8" fill="none" stroke="#00c000" stroke-width="2.2"/>
<circle cx="610.04" cy="277.4" r="2.8" fill="none" stroke="#00c000" stroke-width="2.2"/>
<circle cx="616.06" cy="289" r="2.8" fill="none" stroke="#00c000" stroke-width="2.2"/>
<rect x="89.5" y="193.2" width="7.2" height="7.2" fill="#800000"/>
<circle cx="93.1" cy="212.3" r="2.8" fill="none" stroke="#ff0000" stroke-width="2.15"/>
<text x="107" y="200.8" fill="#000" font-size="12" text-anchor="start" >Stokes</text>
<text x="107" y="216.5" fill="#000" font-size="12" text-anchor="start" >anti-Stokes</text>
<rect x="481" y="39" width="7.0" height="7.0" fill="#006400"/>
<circle cx="484.6" cy="57.9" r="2.8" fill="none" stroke="#00c000" stroke-width="2.2"/>
<text x="498.4" y="46.4" fill="#000" font-size="12" text-anchor="start" >Stokes</text>
<text x="498.4" y="61.9" fill="#000" font-size="12" text-anchor="start" >anti-Stokes</text>
<circle cx="430" cy="247.1" r="4.1" fill="#0000ff"/>
<text x="444.3" y="251.5" fill="#000" font-size="12" text-anchor="start" >Stokes</text>
</svg>
</body></html>
